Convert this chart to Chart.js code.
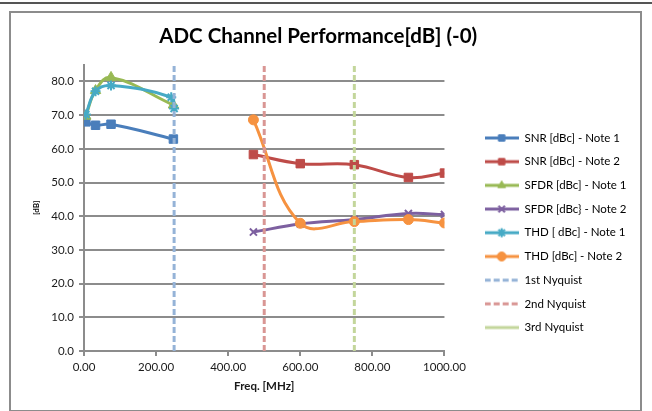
<!DOCTYPE html>
<html>
<head>
<meta charset="utf-8">
<script src="https://cdn.jsdelivr.net/npm/chart.js@4.4.1/dist/chart.umd.min.js"></script>
<style>
  html, body { margin: 0; padding: 0; background: #fff; }
  #wrap { position: relative; width: 652px; height: 411px; overflow: hidden; }
  #topline { position: absolute; left: 0; top: 2px; width: 652px; height: 0; border-top: 2px solid #555; }
  #frame { position: absolute; left: 9px; top: 11px; width: 633px; height: 401px; border: 2px solid #8c8c8c; box-sizing: border-box; }
  canvas { position: absolute; left: 0; top: 0; }
</style>
</head>
<body>
<div id="wrap">
  <div id="topline"></div>
  <div id="frame"></div>
  <canvas id="adcChart" width="652" height="411"></canvas>
</div>
<script>
// Frequencies (MHz)
const freqNote1 = [5, 32, 75, 248];
const freqThdNote1 = [5, 32, 75, 242, 250];
const freqNote2 = [470, 600, 750, 900, 1000];
const nyquistFreqs = [250, 500, 750];
const nyquistSpan = [0, 85];

// Values in dBc
const snrNote1 = [68.0, 67.0, 67.3, 62.9];
const snrNote2 = [58.3, 55.6, 55.3, 51.5, 52.8];
const sfdrNote1 = [69.7, 77.3, 81.2, 73.0];
const sfdrNote2 = [35.3, 37.7, 39.0, 40.8, 40.5];
const thdNote1 = [70.2, 77.1, 78.8, 75.3, 72.0];
const thdNote2 = [68.6, 37.9, 38.4, 39.0, 38.0];

const xTickLabels = ['0.00', '200.00', '400.00', '600.00', '800.00', '1000.00'];
const yTickLabels = ['0.0', '10.0', '20.0', '30.0', '40.0', '50.0', '60.0', '70.0', '80.0'];

const FONT = 'Lato, "Open Sans", sans-serif';
const GRID = '#8c8c8c';

function pts(xs, ys) {
  return xs.map((x, i) => ({ x: x, y: ys[i] }));
}

function series(label, xs, ys, color, style, radius) {
  return {
    label: label,
    data: pts(xs, ys),
    borderColor: color,
    backgroundColor: color,
    pointStyle: style,
    pointRadius: radius,
    pointBorderWidth: (style === 'crossRot' || style === 'star') ? 2 : 1,
    borderWidth: 3,
    tension: 0.4
  };
}

function nyquist(label, f, color) {
  return {
    label: label,
    data: pts([f, f], nyquistSpan),
    borderColor: color,
    backgroundColor: color,
    borderDash: [6, 3],
    borderWidth: 3,
    pointRadius: 0
  };
}

const datasets = [
  series('SNR [dBc] - Note 1', freqNote1, snrNote1, '#4a7ebb', 'rect', 6),
  series('SNR [dBc] - Note 2', freqNote2, snrNote2, '#be4b48', 'rect', 6),
  series('SFDR [dBc] - Note 1', freqNote1, sfdrNote1, '#98b954', 'triangle', 6),
  series('SFDR [dBc} - Note 2', freqNote2, sfdrNote2, '#7d60a0', 'crossRot', 5),
  series('THD [ dBc] - Note 1', freqThdNote1, thdNote1, '#46aac5', 'star', 5),
  series('THD [dBc] - Note 2', freqNote2, thdNote2, '#f69240', 'circle', 5),
  nyquist('1st Nyquist', nyquistFreqs[0], '#95b3d7'),
  nyquist('2nd Nyquist', nyquistFreqs[1], '#d99694'),
  nyquist('3rd Nyquist', nyquistFreqs[2], '#c3d69b')
];
// later series drawn on top, like the original
datasets.forEach((d, i) => { d.order = datasets.length - i; });

// legend glyphs: line with the marker in the middle
function legendGlyph(ds, solid) {
  const c = document.createElement('canvas');
  c.width = 34; c.height = 12;
  const g = c.getContext('2d');
  g.strokeStyle = ds.borderColor;
  g.fillStyle = ds.backgroundColor;
  g.lineWidth = 3;
  g.setLineDash(solid ? [] : (ds.borderDash || []));
  g.beginPath(); g.moveTo(0, 6); g.lineTo(34, 6); g.stroke();
  g.setLineDash([]);
  if (ds.pointRadius) {
    g.lineWidth = ds.pointBorderWidth;
    Chart.helpers.drawPoint(g, { pointStyle: ds.pointStyle, radius: 4.5, rotation: 0, borderWidth: ds.pointBorderWidth }, 17, 6);
  }
  return c;
}
const glyphs = datasets.map((d, i) => legendGlyph(d, i === 8));

new Chart(document.getElementById('adcChart'), {
  type: 'line',
  data: { datasets: datasets },
  options: {
    responsive: false,
    animation: false,
    layout: { padding: { left: 0, right: 15.5, top: 12, bottom: 16 } },
    plugins: {
      title: {
        display: true,
        text: 'ADC Channel Performance[dB] (-0)',
        color: '#000',
        font: { family: FONT, size: 20.5, weight: 'bold' },
        padding: { top: 12, bottom: 16 }
      },
      legend: {
        position: 'right',
        align: 'start',
        fullSize: false,
        maxWidth: 200,
        title: { display: true, text: '', padding: { top: 20.5, bottom: 20.5 } },
        labels: {
          usePointStyle: true,
          pointStyleWidth: 34,
          padding: 12.2,
          color: '#000',
          font: { family: FONT, size: 11.5 },
          sort: (a, b) => a.datasetIndex - b.datasetIndex,
          generateLabels: chart => Chart.defaults.plugins.legend.labels.generateLabels(chart)
            .map(item => Object.assign(item, { pointStyle: glyphs[item.datasetIndex] }))
        }
      },
      tooltip: { enabled: false }
    },
    scales: {
      x: {
        type: 'linear',
        min: 0,
        max: 1000,
        afterFit: s => { s.height = 44; },
        ticks: {
          stepSize: 200,
          padding: 4,
          color: '#1a1a1a',
          font: { family: FONT, size: 11.5 },
          callback: (v, i) => xTickLabels[i]
        },
        grid: { drawOnChartArea: false, color: GRID, lineWidth: 2, tickLength: 5 },
        border: { color: GRID, width: 2 },
        title: {
          display: true,
          text: 'Freq. [MHz]',
          color: '#1a1a1a',
          font: { family: FONT, size: 11.5, weight: 'bold' },
          padding: { top: 3, bottom: 2 }
        }
      },
      y: {
        min: 0,
        max: 85,
        afterFit: s => { s.width = 84; },
        afterBuildTicks: s => { s.ticks = s.ticks.filter(t => t.value % 10 === 0); },
        ticks: {
          stepSize: 10,
          padding: 5,
          color: '#1a1a1a',
          font: { family: FONT, size: 11.5 },
          callback: v => yTickLabels[v / 10]
        },
        grid: { color: GRID, lineWidth: 2, tickLength: 5 },
        border: { color: GRID, width: 2 },
        title: {
          display: true,
          text: '[dB]',
          color: '#000',
          font: { family: FONT, size: 8, weight: 'bold' },
          padding: { top: 32, bottom: 4 }
        }
      },
      // empty spacer between plot area and legend
      gap: {
        position: 'right',
        display: true,
        afterFit: s => { s.width = 28; },
        ticks: { display: false },
        grid: { display: false },
        border: { display: false }
      }
    }
  }
});
</script>
</body>
</html>
